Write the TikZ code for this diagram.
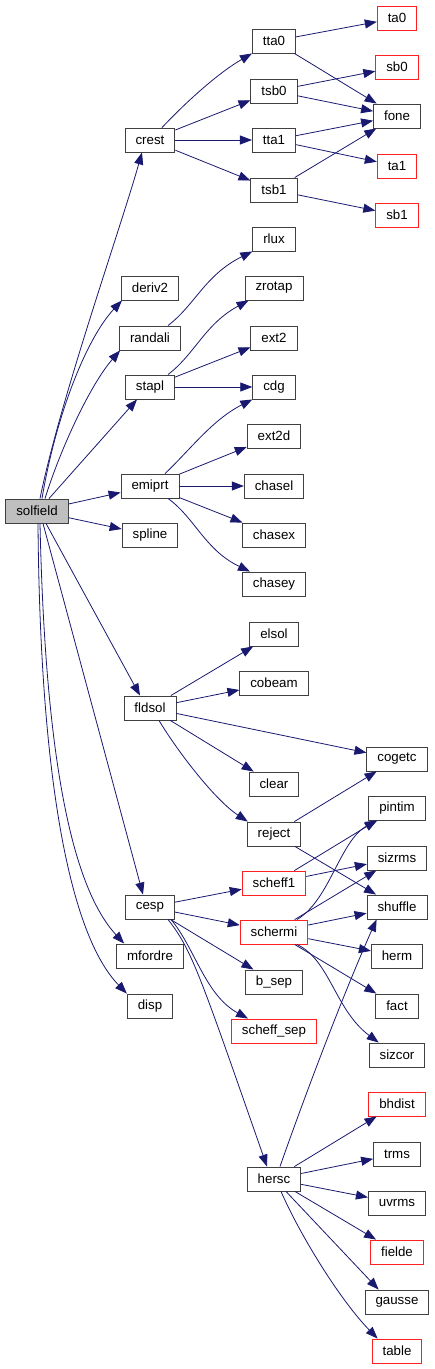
\documentclass[tikz,border=0pt]{standalone}
\usepackage{fontspec}
\setmainfont{Liberation Sans}
\usetikzlibrary{arrows.meta}
\definecolor{edgeblue}{HTML}{191970}
\definecolor{boxgray}{HTML}{404040}
\definecolor{fillgray}{HTML}{BFBFBF}
\definecolor{boxred}{HTML}{FF2020}
\tikzset{
  fn/.style={draw=boxgray, line width=0.9pt, rectangle, inner xsep=10.5pt, inner ysep=0pt,
    minimum height=24pt, font=\fontsize{13.3}{15}\selectfont, fill=white},
  fnred/.style={fn, draw=boxred},
  fnroot/.style={fn, fill=fillgray},
  lnk/.style={draw=edgeblue, line width=0.8pt, -{Triangle[length=12pt,width=9pt]}}
}
\begin{document}
\begin{tikzpicture}[x=1pt,y=-1pt]
\useasboundingbox (0,0) rectangle (435,1369);
% column 1
\node[fnroot] (solfield) at (37,511) {solfield};
% column 2
\node[fn] (crest) at (150,140) {crest};
\node[fn] (deriv2) at (150,288) {deriv2};
\node[fn] (randali) at (150,338) {randali};
\node[fn] (stapl) at (150,387) {stapl};
\node[fn] (emiprt) at (150,486) {emiprt};
\node[fn] (spline) at (150,535) {spline};
\node[fn] (fldsol) at (150,708) {fldsol};
\node[fn] (cesp) at (150,907) {cesp};
\node[fn] (mfordre) at (150,956) {mfordre};
\node[fn] (disp) at (150,1006) {disp};
% column 3
\node[fn] (tta0) at (274,41) {tta0};
\node[fn] (tsb0) at (274,91) {tsb0};
\node[fn] (tta1) at (274,140) {tta1};
\node[fn] (tsb1) at (274,190) {tsb1};
\node[fn] (rlux) at (274,239) {rlux};
\node[fn] (zrotap) at (274,288) {zrotap};
\node[fn] (ext2) at (274,338) {ext2};
\node[fn] (cdg) at (274,387) {cdg};
\node[fn] (ext2d) at (274,436) {ext2d};
\node[fn] (chasel) at (274,486) {chasel};
\node[fn] (chasex) at (274,535) {chasex};
\node[fn] (chasey) at (274,584) {chasey};
\node[fn] (elsol) at (274,634) {elsol};
\node[fn] (cobeam) at (274,683) {cobeam};
\node[fn] (clear) at (274,784) {clear};
\node[fn] (reject) at (274,834) {reject};
\node[fnred] (scheff1) at (274,883) {scheff1};
\node[fnred] (schermi) at (274,932) {schermi};
\node[fn] (bsep) at (274,982) {b\_sep};
\node[fnred] (scheffsep) at (274,1031) {scheff\_sep};
\node[fn] (hersc) at (274,1179) {hersc};
% column 4
\node[fnred] (ta0) at (397,18) {ta0};
\node[fnred] (sb0) at (397,67) {sb0};
\node[fn] (fone) at (397,116) {fone};
\node[fnred] (ta1) at (397,166) {ta1};
\node[fnred] (sb1) at (397,215) {sb1};
\node[fn] (cogetc) at (397,759) {cogetc};
\node[fn] (pintim) at (397,808) {pintim};
\node[fn] (sizrms) at (397,858) {sizrms};
\node[fn] (shuffle) at (397,907) {shuffle};
\node[fn] (herm) at (397,956) {herm};
\node[fn] (fact) at (397,1006) {fact};
\node[fn] (sizcor) at (397,1055) {sizcor};
\node[fnred] (bhdist) at (397,1104) {bhdist};
\node[fn] (trms) at (397,1154) {trms};
\node[fn] (uvrms) at (397,1203) {uvrms};
\node[fnred] (fielde) at (397,1252) {fielde};
\node[fn] (gausse) at (397,1302) {gausse};
\node[fnred] (table) at (397,1351) {table};

% solfield edges
\draw[lnk] ([xshift=3]solfield.north) .. controls (60,400) and (120,230) .. ([xshift=-8]crest.south);
\draw[lnk] ([xshift=5]solfield.north) .. controls (55,420) and (85,340) .. ([xshift=1]deriv2.south west);
\draw[lnk] ([xshift=8]solfield.north) .. controls (60,450) and (90,385) .. ([xshift=1]randali.south west);
\draw[lnk] ([xshift=12]solfield.north) -- ([xshift=-13]stapl.south);
\draw[lnk] (solfield) -- (emiprt);
\draw[lnk] (solfield) -- (spline);
\draw[lnk] ([xshift=9]solfield.south) -- ([xshift=-10]fldsol.north);
\draw[lnk] ([xshift=6]solfield.south) -- ([xshift=-7]cesp.north);
\draw[lnk] ([xshift=3]solfield.south) .. controls (45,750) and (70,885) .. ([xshift=8]mfordre.north west);
\draw[lnk] ([xshift=1]solfield.south) .. controls (40,780) and (70,935) .. (disp.north west);

% crest
\draw[lnk] ([xshift=12]crest.north) .. controls (190,98) and (220,72) .. (tta0.south west);
\draw[lnk] (crest) -- (tsb0);
\draw[lnk] (crest) -- (tta1);
\draw[lnk] (crest) -- (tsb1);
\draw[lnk] (tta0) -- (ta0);
\draw[lnk] (tta0) -- (fone);
\draw[lnk] (tsb0) -- (sb0);
\draw[lnk] (tsb0) -- (fone);
\draw[lnk] (tta1) -- (fone);
\draw[lnk] (tta1) -- (ta1);
\draw[lnk] (tsb1) -- (fone);
\draw[lnk] (tsb1) -- (sb1);

% randali, stapl, emiprt
\draw[lnk] ([xshift=18]randali.north) .. controls (195,305) and (205,275) .. (rlux.south west);
\draw[lnk] ([xshift=18]stapl.north) .. controls (195,354) and (205,324) .. ([xshift=4]zrotap.south west);
\draw[lnk] (stapl) -- (ext2);
\draw[lnk] (stapl) -- (cdg);
\draw[lnk] ([xshift=15]emiprt.north) .. controls (190,450) and (212,420) .. (cdg.south west);
\draw[lnk] (emiprt) -- (ext2d);
\draw[lnk] (emiprt) -- (chasel);
\draw[lnk] (emiprt) -- (chasex);
\draw[lnk] ([xshift=18]emiprt.south) .. controls (195,518) and (205,550) .. ([xshift=8]chasey.north west);

% fldsol
\draw[lnk] (fldsol) -- (elsol);
\draw[lnk] (fldsol) -- (cobeam);
\draw[lnk] (fldsol) -- (cogetc);
\draw[lnk] (fldsol) -- (clear);
\draw[lnk] ([xshift=9]fldsol.south) .. controls (178,752) and (215,800) .. ([xshift=1]reject.north west);
\draw[lnk] (reject) -- (cogetc);
\draw[lnk] (reject) -- (shuffle);

% cesp
\draw[lnk] (cesp) -- (scheff1);
\draw[lnk] (cesp) -- (schermi);
\draw[lnk] (cesp) -- (bsep);
\draw[lnk] ([xshift=-4]cesp.south east) .. controls (195,948) and (205,995) .. ([xshift=17]scheffsep.north west);
\draw[lnk] ([xshift=18]cesp.south) .. controls (192,950) and (200,975) .. ([xshift=-7]hersc.north);

% scheff1, schermi
\draw[lnk] (scheff1) -- (pintim);
\draw[lnk] (scheff1) -- (sizrms);
\draw[lnk] ([xshift=23]schermi.north) .. controls (330,900) and (340,840) .. ([xshift=9]pintim.south west);
\draw[lnk] (schermi) -- (sizrms);
\draw[lnk] (schermi) -- (shuffle);
\draw[lnk] (schermi) -- (herm);
\draw[lnk] (schermi) -- (fact);
\draw[lnk] ([xshift=23]schermi.south) .. controls (330,960) and (335,1010) .. ([xshift=10]sizcor.north west);

% hersc
\draw[lnk] ([xshift=6]hersc.north) .. controls (305,1095) and (345,990) .. ([xshift=10]shuffle.south west);
\draw[lnk] (hersc) -- (bhdist);
\draw[lnk] (hersc) -- (trms);
\draw[lnk] (hersc) -- (uvrms);
\draw[lnk] (hersc) -- (fielde);
\draw[lnk] ([xshift=12]hersc.south) -- ([xshift=14]gausse.north west);
\draw[lnk] ([xshift=7]hersc.south) .. controls (300,1235) and (340,1300) .. ([xshift=6]table.north west);
\end{tikzpicture}
\end{document}
